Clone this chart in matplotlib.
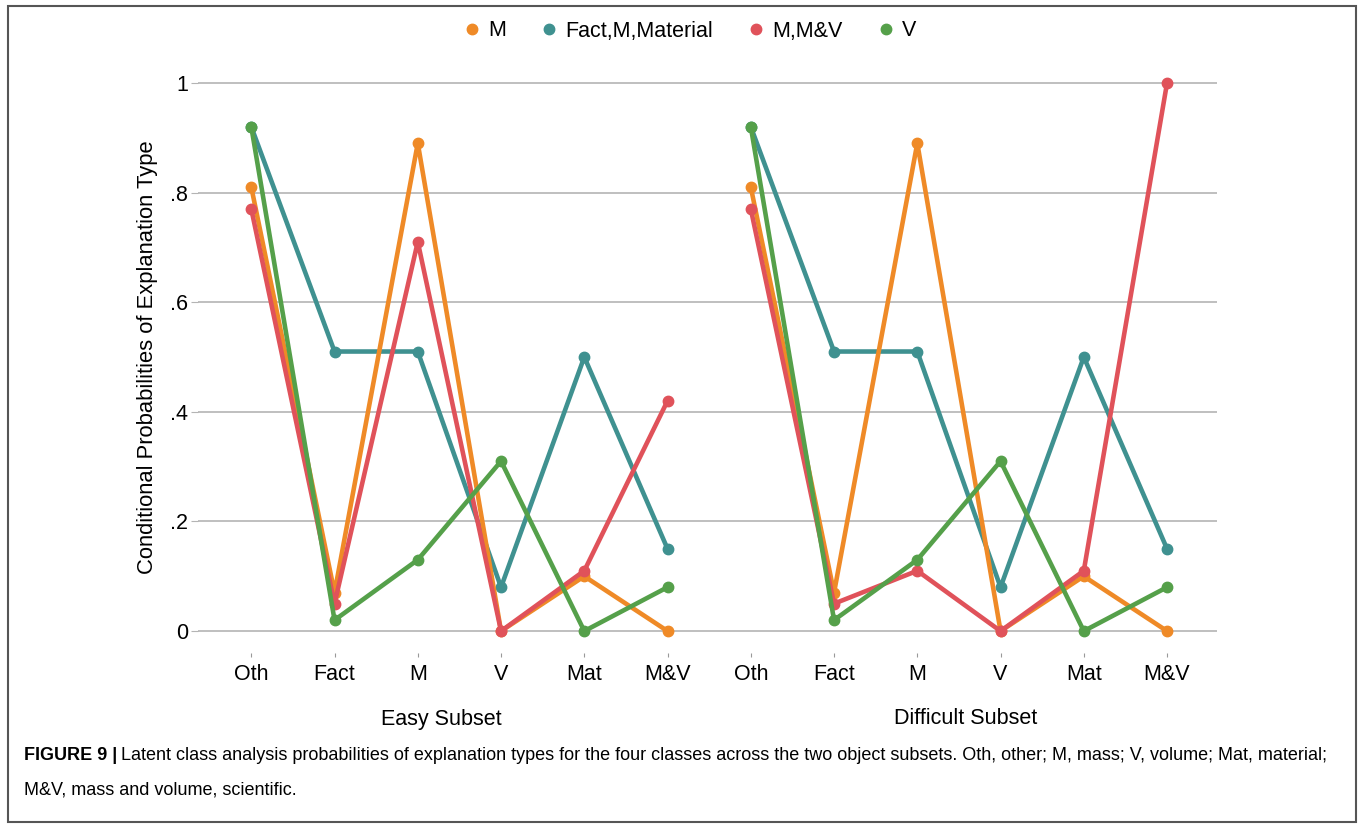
import matplotlib.pyplot as plt
from matplotlib.lines import Line2D
from matplotlib.patches import Rectangle

plt.rcParams['font.family'] = ['Liberation Sans', 'DejaVu Sans']

categories = ['Oth', 'Fact', 'M', 'V', 'Mat', 'M&V']
subsets = ['Easy Subset', 'Difficult Subset']
classes = ['M', 'Fact,M,Material', 'M,M&V', 'V']
colors = ['#EF8A27', '#3F9190', '#E0525A', '#55A04A']

# conditional probabilities, easy subset then difficult subset
easy_m = [0.81, 0.07, 0.89, 0.00, 0.10, 0.00]
easy_fmm = [0.92, 0.51, 0.51, 0.08, 0.50, 0.15]
easy_mmv = [0.77, 0.05, 0.71, 0.00, 0.11, 0.42]
easy_v = [0.92, 0.02, 0.13, 0.31, 0.00, 0.08]

diff_m = [0.81, 0.07, 0.89, 0.00, 0.10, 0.00]
diff_fmm = [0.92, 0.51, 0.51, 0.08, 0.50, 0.15]
diff_mmv = [0.77, 0.05, 0.11, 0.00, 0.11, 1.00]
diff_v = [0.92, 0.02, 0.13, 0.31, 0.00, 0.08]

easy = [easy_m, easy_fmm, easy_mmv, easy_v]
diff = [diff_m, diff_fmm, diff_mmv, diff_v]
zorders = [4, 3, 5, 6]

W, H = 1362, 825
fig = plt.figure(figsize=(W / 100, H / 100), dpi=100)
ax = fig.add_axes([198 / W, 1 - 653 / H, (1217 - 198) / W, (653 - 61) / H])

n = len(categories)
x_easy = list(range(n))
x_diff = [i + n for i in range(n)]

for vals_e, vals_d, c, z in zip(easy, diff, colors, zorders):
    ax.plot(x_easy, vals_e, color=c, lw=3.3, marker='o', ms=7.5, zorder=z,
            solid_joinstyle='round', solid_capstyle='round')
    ax.plot(x_diff, vals_d, color=c, lw=3.3, marker='o', ms=7.5, zorder=z,
            solid_joinstyle='round', solid_capstyle='round')

ax.set_xlim(-0.64, 11.6)
ax.set_ylim(-0.04, 1.04)
ax.set_yticks([0, 0.2, 0.4, 0.6, 0.8, 1.0])
ax.set_yticklabels(['0', '.2', '.4', '.6', '.8', '1'])
ax.set_xticks(x_easy + x_diff)
ax.set_xticklabels(categories + categories)
ax.grid(axis='y', color='#b4b4b4', lw=1.2, zorder=0)
ax.set_axisbelow(True)
for s in ax.spines.values():
    s.set_visible(False)
ax.tick_params(axis='y', length=5, color='#b4b4b4', labelsize=15.5, pad=2)
ax.tick_params(axis='x', length=3, color='#999999', labelsize=15.5, pad=5)

fig.text(148 / W, 1 - 357 / H, 'Conditional Probabilities of Explanation Type',
         rotation=90, ha='center', va='center', fontsize=15.8)
fig.text(441 / W, 1 - 719 / H, subsets[0], ha='center', va='center', fontsize=15.5)
fig.text(966 / W, 1 - 719 / H, subsets[1], ha='center', va='center', fontsize=15.5)

handles = [Line2D([], [], color=c, marker='o', ls='none', ms=7.5) for c in colors]
fig.legend(handles, classes, loc='center', bbox_to_anchor=(689 / W, 1 - 31 / H),
           ncol=4, frameon=False, fontsize=15.5, handletextpad=0.25,
           columnspacing=1.5, handlelength=1.0)

# figure frame
fig.patches.append(Rectangle((8 / W, 1 - 822 / H), (1356 - 8) / W, (822 - 6) / H,
                             transform=fig.transFigure, fill=False,
                             edgecolor='#555555', lw=1.5))

# caption
r = fig.canvas.get_renderer()
t1 = fig.text(24 / W, 1 - 756 / H, 'FIGURE 9 |', fontsize=13, fontweight='bold',
              va='center', ha='left')
bb = t1.get_window_extent(renderer=r)
fig.text(bb.x1 / W + 4 / W, 1 - 756 / H,
         'Latent class analysis probabilities of explanation types for the four classes '
         'across the two object subsets. Oth, other; M, mass; V, volume; Mat, material;',
         fontsize=13, va='center', ha='left')
fig.text(24 / W, 1 - 790 / H, 'M&V, mass and volume, scientific.', fontsize=13,
         va='center', ha='left')

fig.savefig('out.png', dpi=100)
